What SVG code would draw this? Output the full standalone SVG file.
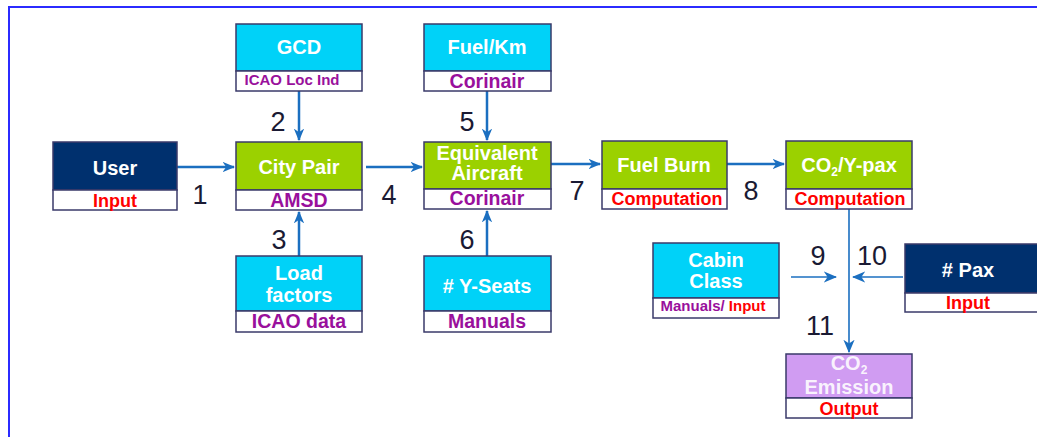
<svg xmlns="http://www.w3.org/2000/svg" width="1037" height="437" viewBox="0 0 1037 437">
  <style>
    .hd { font-family: "Liberation Sans", Arial, sans-serif; font-weight: bold; font-size: 20px; fill: #ffffff; text-anchor: middle; }
    .sb { font-family: "Liberation Sans", Arial, sans-serif; font-weight: bold; font-size: 18px; text-anchor: middle; }
    .sm { font-size: 15px; }
    .pu { fill: #99109c; }
    .big { font-size: 19.5px; }
    .rd { fill: #ff0000; }
    .num { font-family: "Liberation Sans", Arial, sans-serif; font-size: 27px; fill: #1a1a33; text-anchor: middle; }
    .frame { fill: none; stroke: #2b2bff; stroke-width: 2; }
    .box { stroke: #3a3a6a; stroke-width: 1.5; }
    .tag { fill: #ffffff; stroke: #3a3a6a; stroke-width: 1.5; }
    .cyan { fill: #00d2f8; }
    .green { fill: #9bd100; }
    .navy { fill: #00306e; }
    .lav { fill: #d09cf2; }
    .wire { fill: none; stroke: #1b6fc0; stroke-width: 2.5; }
    .thin { fill: none; stroke: #1b6fc0; stroke-width: 1.6; }
  </style>
  <defs>
    <marker id="head" viewBox="0 0 12 10" refX="11" refY="5" markerWidth="5" markerHeight="4.2" markerUnits="strokeWidth" orient="auto">
      <path d="M0,0 L12,5 L0,10 L3.5,5 Z" fill="#1b6fc0"/>
    </marker>
    <marker id="headThin" viewBox="0 0 12 10" refX="11" refY="5" markerWidth="8.5" markerHeight="7" markerUnits="strokeWidth" orient="auto">
      <path d="M0,0 L12,5 L0,10 L3.5,5 Z" fill="#1b6fc0"/>
    </marker>
  </defs>

  <rect width="1037" height="437" fill="#ffffff"/>
  <!-- surrounding frame -->
  <path class="frame" d="M9,437 L9,7 L1037,7"/>

  <!-- connectors -->
  <g id="connectors">
    <line class="wire" x1="177" y1="167" x2="234" y2="167" marker-end="url(#head)"/>
    <line class="wire" x1="366" y1="167" x2="422" y2="167" marker-end="url(#head)"/>
    <line class="wire" x1="551" y1="164" x2="600" y2="164" marker-end="url(#head)"/>
    <line class="wire" x1="727" y1="164" x2="784" y2="164" marker-end="url(#head)"/>
    <line class="wire" x1="299" y1="91" x2="299" y2="140" marker-end="url(#head)"/>
    <line class="wire" x1="487" y1="91" x2="487" y2="140" marker-end="url(#head)"/>
    <line class="wire" x1="299" y1="256" x2="299" y2="212" marker-end="url(#head)"/>
    <line class="wire" x1="487" y1="256" x2="487" y2="211" marker-end="url(#head)"/>
    <line class="thin" x1="849" y1="209" x2="849" y2="352" marker-end="url(#headThin)"/>
    <line class="thin" x1="791" y1="277" x2="836" y2="277" marker-end="url(#headThin)"/>
    <line class="thin" x1="903" y1="277" x2="853" y2="277" marker-end="url(#headThin)"/>
  </g>

  <!-- step numbers -->
  <g id="labels">
    <text class="num" x="200" y="204">1</text>
    <text class="num" x="278" y="131">2</text>
    <text class="num" x="279" y="249">3</text>
    <text class="num" x="389" y="204">4</text>
    <text class="num" x="467" y="131">5</text>
    <text class="num" x="467" y="249">6</text>
    <text class="num" x="577" y="200">7</text>
    <text class="num" x="751" y="200">8</text>
    <text class="num" x="818" y="265">9</text>
    <text class="num" x="872" y="265">10</text>
    <text class="num" x="820" y="335">11</text>
  </g>

  <g id="gcd">
    <rect class="box cyan" x="236" y="24" width="126" height="47"/>
    <rect class="tag" x="236" y="71" width="126" height="20"/>
    <text class="hd" x="299" y="54">GCD</text>
    <text class="sb sm pu" x="292" y="85">ICAO Loc Ind</text>
  </g>

  <g id="fuel-km">
    <rect class="box cyan" x="424" y="24" width="127" height="47"/>
    <rect class="tag" x="424" y="71" width="127" height="20"/>
    <text class="hd" x="487" y="54">Fuel/Km</text>
    <text class="sb big pu" x="487" y="88">Corinair</text>
  </g>

  <g id="user">
    <rect class="box navy" x="53" y="142" width="124" height="48"/>
    <rect class="tag" x="53" y="190" width="124" height="20"/>
    <text class="hd" x="115" y="175">User</text>
    <text class="sb rd" x="115" y="207">Input</text>
  </g>

  <g id="city-pair">
    <rect class="box green" x="236" y="142" width="126" height="48"/>
    <rect class="tag" x="236" y="190" width="126" height="20"/>
    <text class="hd" x="299" y="174">City Pair</text>
    <text class="sb big pu" x="299" y="207">AMSD</text>
  </g>

  <g id="equivalent-aircraft">
    <rect class="box green" x="424" y="142" width="127" height="47"/>
    <rect class="tag" x="424" y="189" width="127" height="20"/>
    <text class="hd" x="487" y="160">Equivalent</text>
    <text class="hd" x="487" y="180">Aircraft</text>
    <text class="sb big pu" x="487" y="205">Corinair</text>
  </g>

  <g id="fuel-burn">
    <rect class="box green" x="602" y="141" width="125" height="48"/>
    <rect class="tag" x="602" y="189" width="125" height="20"/>
    <text class="hd" x="664" y="172">Fuel Burn</text>
    <text class="sb rd" x="667" y="205">Computation</text>
  </g>

  <g id="co2-y-pax">
    <rect class="box green" x="786" y="141" width="126" height="48"/>
    <rect class="tag" x="786" y="189" width="126" height="20"/>
    <text class="hd" x="849" y="172">CO<tspan font-size="12" dy="4">2</tspan><tspan dy="-4">/Y-pax</tspan></text>
    <text class="sb rd" x="850" y="205">Computation</text>
  </g>

  <g id="load-factors">
    <rect class="box cyan" x="236" y="256" width="126" height="55"/>
    <rect class="tag" x="236" y="311" width="126" height="21"/>
    <text class="hd" x="299" y="280">Load</text>
    <text class="hd" x="299" y="302">factors</text>
    <text class="sb big pu" x="299" y="328">ICAO data</text>
  </g>

  <g id="y-seats">
    <rect class="box cyan" x="424" y="256" width="127" height="55"/>
    <rect class="tag" x="424" y="311" width="127" height="21"/>
    <text class="hd" x="487" y="293"># Y-Seats</text>
    <text class="sb big pu" x="487" y="328">Manuals</text>
  </g>

  <g id="cabin-class">
    <rect class="box cyan" x="653" y="243" width="126" height="55"/>
    <rect class="tag" x="653" y="298" width="126" height="20"/>
    <text class="hd" x="716" y="267">Cabin</text>
    <text class="hd" x="716" y="288">Class</text>
    <text class="sb sm" x="713" y="311"><tspan class="pu">Manuals/ </tspan><tspan class="rd">Input</tspan></text>
  </g>

  <g id="pax">
    <rect class="box navy" x="905" y="244" width="140" height="49"/>
    <rect class="tag" x="905" y="293" width="140" height="19"/>
    <text class="hd" x="968" y="277"># Pax</text>
    <text class="sb rd" x="968" y="309">Input</text>
  </g>

  <g id="co2-emission">
    <rect class="box lav" x="786" y="354" width="126" height="44"/>
    <rect class="tag" x="786" y="398" width="126" height="20"/>
    <text class="hd" x="849" y="370" fill-opacity="0.9">CO<tspan font-size="12" dy="4">2</tspan></text>
    <text class="hd" x="849" y="394" fill-opacity="0.9">Emission</text>
    <text class="sb rd" x="849" y="415">Output</text>
  </g>
</svg>
